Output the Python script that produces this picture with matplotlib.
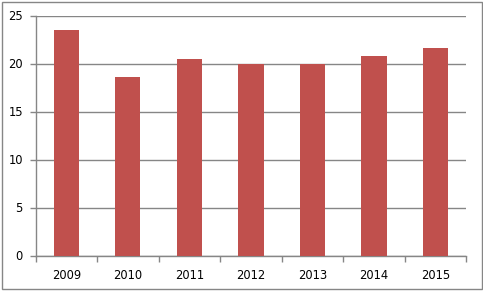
import numpy as np
import matplotlib
matplotlib.use('Agg')
from matplotlib import pyplot as plt
from matplotlib.patches import Rectangle

# data
years = ['2009', '2010', '2011', '2012', '2013', '2014', '2015']
values = [23.5, 18.6, 20.45, 20.0, 20.0, 20.75, 21.6]
y_ticks = [0, 5, 10, 15, 20, 25]

W, H = 483, 291
fig = plt.figure(figsize=(W / 100, H / 100), dpi=100, facecolor='w')
ax = fig.add_axes([35.5 / W, 1 - 255.5 / H, (466.3 - 35.5) / W, 240 / H])

x = np.arange(len(years))
ax.bar(x, values, width=0.41, color='#C0504D', zorder=3)

ax.set_xlim(-0.5, len(years) - 0.5)
ax.set_ylim(0, 25)
ax.set_yticks(y_ticks)
ax.yaxis.grid(True, color='#868686', linewidth=1, zorder=0)

# category ticks sit between the bars
ax.set_xticks(x)
ax.set_xticklabels(years)
ax.set_xticks(np.arange(-0.5, len(years)), minor=True)
ax.tick_params(axis='x', which='major', length=0, pad=10)
ax.tick_params(axis='x', which='minor', length=4, color='#868686', width=1)
ax.tick_params(axis='y', length=4, color='#868686', width=1, pad=5)

for lab in ax.get_xticklabels() + ax.get_yticklabels():
    lab.set_fontsize(8.3)
    lab.set_family('DejaVu Sans')
    lab.set_color('black')

for side in ['top', 'right']:
    ax.spines[side].set_visible(False)
for side in ['left', 'bottom']:
    ax.spines[side].set_color('#868686')
    ax.spines[side].set_linewidth(1)

# chart-area border
fig.patches.append(Rectangle((1.5 / W, 2.5 / H), (W - 3) / W, (H - 4) / H,
                             transform=fig.transFigure, fill=False,
                             edgecolor='#868686', linewidth=1))

plt.savefig('out.png', dpi=100)
